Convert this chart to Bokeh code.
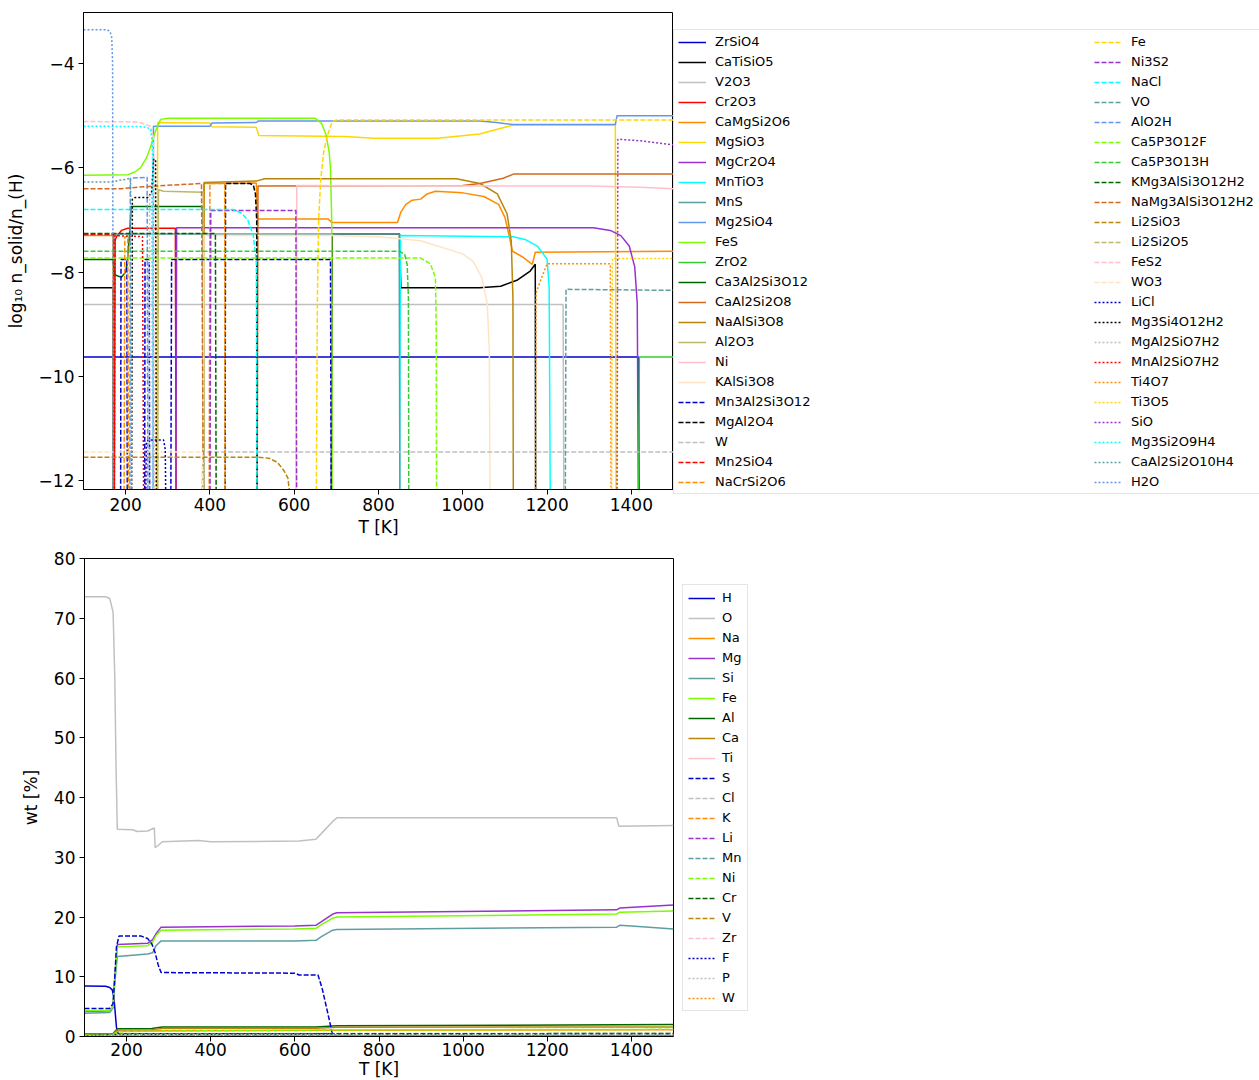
import math
from bokeh.plotting import figure
from bokeh.models import Legend, LegendItem, Range1d, FixedTicker
from bokeh.layouts import column, row
from bokeh.embed import file_html
from bokeh.resources import INLINE

LOW = -13.0   # below the visible axis: species absent
GAP = None    # break in a curve

# ---------------- top panel: log10 n_solid / n_<H>  (T [K], value) ----------------
n_ZrSiO4 = [(100, -9.63), (1417, -9.63), (1419, LOW)]
n_CaTiSiO5 = [(100, -8.3), (170, -8.3), (171, LOW), GAP, (688, LOW), (690, -7.27), (850, -7.27),
              (853, -8.3), (1040, -8.3), (1090, -8.27), (1130, -8.15), (1160, -7.98), (1172, -7.85), (1173, LOW)]
n_V2O3 = [(100, -8.62), (1238, -8.62), (1240, LOW)]
n_Cr2O3 = [(173, LOW), (175, -7.38), (180, -7.3), (190, -7.2), (205, -7.16), (318, -7.16), (320, LOW)]
n_CaMgSi2O6 = [(100, -7.3), (170, -7.3), (171, LOW), GAP, (384, LOW), (386, -6.3), (510, -6.29), (513, -6.98),
               (680, -6.98), (690, -7.05), (845, -7.05), (853, -6.85), (865, -6.7), (880, -6.62), (900, -6.6),
               (915, -6.5), (935, -6.45), (1000, -6.48), (1050, -6.55), (1085, -6.7), (1100, -6.95),
               (1110, -7.3), (1118, -7.6), (1140, -7.7), (1165, -7.85), (1172, -7.62), (1500, -7.6)]
n_MgSiO3 = [(274, LOW), (276, -5.13), (400, -5.14), (404, -5.21), (510, -5.22), (516, -5.38), (720, -5.4),
            (790, -5.43), (940, -5.43), (1040, -5.35), (1100, -5.22), (1120, -5.18), (1362, -5.18), (1364, LOW)]
n_MgCr2O4 = [(319, LOW), (321, -7.15), (1310, -7.15), (1350, -7.2), (1375, -7.3), (1395, -7.5),
             (1408, -7.9), (1414, -8.6), (1417, LOW)]
n_MnTiO3 = [(850, LOW), (852, -7.3), (1120, -7.32), (1150, -7.38), (1177, -7.5), (1200, -7.75),
            (1205, -8.3), (1208, LOW)]
n_MnS = [(170, LOW), (172, -7.27), (849, -7.27), (851, LOW)]
n_Mg2SiO4 = [(265, LOW), (266, -5.2), (400, -5.2), (405, -5.14), (510, -5.13), (515, -5.1), (1040, -5.1),
             (1080, -5.13), (1118, -5.17), (1362, -5.17), (1366, -5.0), (1500, -5.0)]
n_FeS = [(100, -6.14), (205, -6.13), (222, -6.08), (235, -6.0), (250, -5.8), (259, -5.6), (271, -5.29),
         (283, -5.07), (300, -5.05), (650, -5.05), (665, -5.15), (675, -5.35), (683, -5.7), (686, -6.0),
         (689, -7.0), (690, LOW)]
n_ZrO2 = [(1417, LOW), (1419, -9.63), (1500, -9.63)]
n_Ca3Al2Si3O12 = [(100, -7.76), (170, -7.76), (174, -8.05), (190, -8.1), (200, -8.0), (204, -7.8),
                  (210, -7.2), (213, -6.74), (384, -6.74), (386, LOW)]
n_CaAl2Si2O8 = [(512, LOW), (514, -6.35), (1000, -6.34), (1041, -6.3), (1096, -6.2), (1120, -6.12), (1500, -6.12)]
n_NaAlSi3O8 = [(384, LOW), (386, -6.28), (512, -6.25), (530, -6.21), (985, -6.21), (1041, -6.3),
               (1082, -6.5), (1105, -6.88), (1115, -7.4), (1119, -8.5), (1120, LOW)]
n_Al2O3 = [(276, LOW), (278, -6.42), (290, -6.45), (384, -6.47), (386, LOW)]
n_Ni = [(604, LOW), (606, -6.34), (1300, -6.35), (1420, -6.37), (1500, -6.4)]
n_KAlSi3O8 = [(384, LOW), (386, -7.3), (690, -7.3), (800, -7.32), (900, -7.4), (1000, -7.65),
              (1025, -7.8), (1045, -8.1), (1058, -8.6), (1063, -9.5), (1065, LOW)]

n_Mn3Al2Si3O12 = [(188, LOW), (189, -7.76), (203, -7.76), (204, LOW), GAP, (245, LOW), (246, -7.76),
                  (256, -7.76), (257, LOW), GAP, (307, LOW), (309, -7.76), (686, -7.76), (688, LOW)]
n_MgAl2O4 = [(436, LOW), (437, -6.3), (495, -6.3), (503, -6.33), (508, -6.5), (511, -7.0), (512, LOW)]
n_W = [(384, LOW), (386, -11.45), (1500, -11.45)]
n_Mn2SiO4 = [(100, -7.28), (172, -7.28), (173, LOW)]
n_NaCrSi2O6 = [(196, LOW), (198, -7.32), (205, -7.32), (207, LOW), GAP, (398, LOW), (400, -6.3),
               (435, -6.3), (436, LOW)]
n_Fe = [(652, LOW), (655, -8.5), (658, -7.0), (663, -6.2), (670, -5.7), (678, -5.4), (690, -5.12),
        (700, -5.08), (1500, -5.08)]
n_Ni3S2 = [(400, LOW), (402, -6.82), (604, -6.82), (606, LOW)]
n_NaCl = [(100, -6.8), (455, -6.8), (475, -6.87), (490, -7.0), (503, -7.3), (510, -7.8), (512, LOW)]
n_VO = [(1243, LOW), (1245, -8.33), (1500, -8.35)]
n_AlO2H = [(210, LOW), (211, -6.2), (251, -6.18), (253, LOW)]
n_Ca5P3O12F = [(100, -7.73), (900, -7.73), (923, -7.84), (935, -8.1), (937, -9.0), (938, LOW)]
n_Ca5P3O13H = [(100, -7.6), (850, -7.6), (862, -7.66), (868, -7.85), (871, -8.5), (872, LOW)]
n_KMg3AlSi3O12H2 = [(100, -7.26), (413, -7.26), (415, LOW)]
n_NaMg3AlSi3O12H2 = [(100, -6.4), (190, -6.4), (230, -6.37), (290, -6.34), (380, -6.3), (385, LOW)]
n_Li2SiO3 = [(100, -11.55), (515, -11.55), (540, -11.57), (560, -11.65), (575, -11.8), (585, -11.95),
             (590, -12.3), (592, LOW)]
n_Li2Si2O5 = [(380, LOW), (383, -11.6), (388, LOW)]
n_FeS2 = [(100, -5.11), (230, -5.12), (259, -5.2), (266, -5.4), (268, LOW)]
n_WO3 = [(100, -11.45), (382, -11.45), (384, LOW)]

n_LiCl = [(247, LOW), (249, -11.26), (255, -11.22), (290, -11.22), (294, -11.4), (296, LOW)]
n_Mg3Si4O12H2 = [(214, LOW), (216, -6.6), (222, -6.57), (254, -6.57), (262, -6.45), (266, -5.84),
                 (271, -5.84), (273, LOW)]
n_MgAl2SiO7H2 = [(255, LOW), (257, -6.5), (262, -6.5), (264, LOW)]
n_MnAl2SiO7H2 = [(173, LOW), (175, -7.3), (240, -7.32), (243, LOW)]
n_Ti4O7 = [(1172, LOW), (1174, -8.4), (1185, -8.15), (1200, -7.84), (1350, -7.84), (1352, LOW)]
n_Ti3O5 = [(1353, LOW), (1355, -7.74), (1500, -7.74)]
n_SiO = [(1366, LOW), (1368, -5.45), (1420, -5.48), (1500, -5.56)]
n_Mg3Si2O9H4 = [(100, -5.2), (242, -5.21), (259, -5.25), (263, -5.5), (265, -6.5), (266, LOW)]
n_CaAl2Si2O10H4 = [(100, -6.27), (170, -6.27), (185, -6.24), (200, -6.22), (212, -6.2), (214, LOW)]
n_H2O = [(100, -3.35), (155, -3.35), (163, -3.38), (167, -3.5), (169, -4.0), (171, LOW)]

# ---------------- bottom panel: wt [%]  (T [K], value) ----------------
wt_H = [(100, 8.45), (150, 8.4), (160, 8.2), (166, 7.8), (170, 6.5), (173, 4.0), (176, 1.5), (180, 0.5),
        (690, 0.45), (700, 0.05), (1500, 0.03)]
wt_O = [(100, 73.6), (150, 73.6), (160, 73.3), (168, 71.0), (172, 60.0), (175, 45.0), (178, 34.7),
        (215, 34.6), (225, 34.3), (250, 34.4), (266, 34.9), (268, 31.6), (272, 31.8), (285, 32.6),
        (370, 32.8), (400, 32.6), (610, 32.7), (650, 33.0), (670, 34.5), (690, 36.0), (700, 36.6),
        (1365, 36.6), (1370, 35.2), (1500, 35.3)]
wt_Na = [(100, 0.3), (168, 0.32), (178, 0.85), (285, 0.95), (700, 1.05), (1500, 1.15)]
wt_Mg = [(100, 4.2), (160, 4.3), (168, 5.0), (172, 10.0), (178, 15.4), (250, 15.6), (262, 16.2),
         (270, 17.2), (282, 18.3), (600, 18.5), (650, 18.6), (665, 19.3), (690, 20.5), (700, 20.7),
         (1365, 21.2), (1372, 21.5), (1500, 22.0)]
wt_Si = [(100, 3.9), (160, 4.0), (168, 4.8), (172, 9.0), (178, 13.4), (250, 13.8), (262, 14.0),
         (270, 15.2), (282, 16.0), (600, 16.0), (650, 16.1), (665, 16.8), (690, 17.8), (700, 17.9),
         (1365, 18.3), (1372, 18.6), (1400, 18.5), (1500, 18.0)]
wt_Fe = [(100, 4.3), (160, 4.4), (168, 5.0), (172, 10.0), (178, 15.0), (250, 15.2), (262, 15.8),
         (270, 16.9), (282, 17.8), (600, 18.0), (650, 18.1), (665, 18.8), (690, 19.8), (700, 20.0),
         (1365, 20.5), (1372, 20.8), (1500, 21.0)]
wt_Al = [(100, 0.45), (168, 0.5), (178, 1.3), (260, 1.35), (285, 1.6), (650, 1.6), (700, 1.8), (1500, 2.0)]
wt_Ca = [(100, 0.4), (168, 0.45), (178, 1.1), (260, 1.15), (285, 1.35), (650, 1.4), (700, 1.55), (1500, 1.6)]
wt_Ti = [(100, 0.03), (178, 0.08), (1500, 0.09)]
wt_S = [(100, 4.7), (160, 4.7), (168, 5.5), (172, 10.0), (176, 15.0), (182, 16.8), (235, 16.8),
        (250, 16.4), (260, 15.5), (268, 14.0), (275, 12.0), (282, 10.7), (600, 10.6), (610, 10.3),
        (655, 10.3), (665, 8.0), (678, 4.0), (688, 0.8), (692, 0.0), (1500, 0.0)]
wt_Cl = [(100, 0.15), (178, 0.4), (600, 0.45), (690, 0.5), (1500, 0.5)]
wt_K = [(100, 0.04), (178, 0.12), (1500, 0.14)]
wt_Li = [(100, 0.005), (1500, 0.006)]
wt_Mn = [(100, 0.1), (178, 0.3), (1500, 0.35)]
wt_Ni = [(100, 0.28), (168, 0.3), (178, 0.8), (285, 0.9), (700, 1.1), (1500, 1.2)]
wt_Cr = [(100, 0.15), (178, 0.35), (700, 0.45), (1500, 0.5)]
wt_V = [(100, 0.01), (1500, 0.012)]
wt_Zr = [(100, 0.004), (1500, 0.005)]
wt_F = [(100, 0.02), (1500, 0.03)]
wt_P = [(100, 0.1), (178, 0.3), (1500, 0.32)]
wt_W = [(100, 0.002), (1500, 0.002)]

TOP_SERIES = [
    ("ZrSiO4", n_ZrSiO4), ("CaTiSiO5", n_CaTiSiO5), ("V2O3", n_V2O3), ("Cr2O3", n_Cr2O3),
    ("CaMgSi2O6", n_CaMgSi2O6), ("MgSiO3", n_MgSiO3), ("MgCr2O4", n_MgCr2O4), ("MnTiO3", n_MnTiO3),
    ("MnS", n_MnS), ("Mg2SiO4", n_Mg2SiO4), ("FeS", n_FeS), ("ZrO2", n_ZrO2),
    ("Ca3Al2Si3O12", n_Ca3Al2Si3O12), ("CaAl2Si2O8", n_CaAl2Si2O8), ("NaAlSi3O8", n_NaAlSi3O8),
    ("Al2O3", n_Al2O3), ("Ni", n_Ni), ("KAlSi3O8", n_KAlSi3O8),
    ("Mn3Al2Si3O12", n_Mn3Al2Si3O12), ("MgAl2O4", n_MgAl2O4), ("W", n_W), ("Mn2SiO4", n_Mn2SiO4),
    ("NaCrSi2O6", n_NaCrSi2O6), ("Fe", n_Fe), ("Ni3S2", n_Ni3S2), ("NaCl", n_NaCl), ("VO", n_VO),
    ("AlO2H", n_AlO2H), ("Ca5P3O12F", n_Ca5P3O12F), ("Ca5P3O13H", n_Ca5P3O13H),
    ("KMg3AlSi3O12H2", n_KMg3AlSi3O12H2), ("NaMg3AlSi3O12H2", n_NaMg3AlSi3O12H2),
    ("Li2SiO3", n_Li2SiO3), ("Li2Si2O5", n_Li2Si2O5), ("FeS2", n_FeS2), ("WO3", n_WO3),
    ("LiCl", n_LiCl), ("Mg3Si4O12H2", n_Mg3Si4O12H2), ("MgAl2SiO7H2", n_MgAl2SiO7H2),
    ("MnAl2SiO7H2", n_MnAl2SiO7H2), ("Ti4O7", n_Ti4O7), ("Ti3O5", n_Ti3O5), ("SiO", n_SiO),
    ("Mg3Si2O9H4", n_Mg3Si2O9H4), ("CaAl2Si2O10H4", n_CaAl2Si2O10H4), ("H2O", n_H2O),
]
BOT_SERIES = [
    ("H", wt_H), ("O", wt_O), ("Na", wt_Na), ("Mg", wt_Mg), ("Si", wt_Si), ("Fe", wt_Fe), ("Al", wt_Al),
    ("Ca", wt_Ca), ("Ti", wt_Ti), ("S", wt_S), ("Cl", wt_Cl), ("K", wt_K), ("Li", wt_Li), ("Mn", wt_Mn),
    ("Ni", wt_Ni), ("Cr", wt_Cr), ("V", wt_V), ("Zr", wt_Zr), ("F", wt_F), ("P", wt_P), ("W", wt_W),
]

TOP_COLORS = ["mediumblue", "black", "silver", "red", "darkorange", "gold", "darkorchid", "cyan",
              "cadetblue", "cornflowerblue", "lawngreen", "limegreen", "darkgreen", "chocolate",
              "darkgoldenrod", "darkkhaki", "pink", "bisque"]
BOT_COLORS = ["mediumblue", "silver", "darkorange", "darkorchid", "cadetblue", "lawngreen",
              "darkgreen", "darkgoldenrod", "pink"]
DASHES = ["solid", "5 2", "2 2"]

X_TICKS = [200, 400, 600, 800, 1000, 1200, 1400]
TOP_Y_TICKS = [-12, -10, -8, -6, -4]
BOT_Y_TICKS = [0, 10, 20, 30, 40, 50, 60, 70, 80]
FONT = "DejaVu Sans"


def split_xy(pts):
    xs, ys = [], []
    for pt in pts:
        if pt is None:
            xs.append(float("nan"))
            ys.append(float("nan"))
        else:
            xs.append(pt[0])
            ys.append(pt[1])
    return xs, ys


def style(p, yticks, label_standoff, title_standoff):
    p.xgrid.visible = False
    p.ygrid.visible = False
    p.outline_line_color = "black"
    p.outline_line_width = 1
    p.background_fill_color = "white"
    p.border_fill_color = "white"
    p.xaxis.ticker = FixedTicker(ticks=X_TICKS)
    p.yaxis.ticker = FixedTicker(ticks=yticks)
    p.yaxis.major_label_overrides = {v: str(v).replace("-", "\u2212") for v in yticks}
    for ax in (p.xaxis[0], p.yaxis[0]):
        ax.major_label_text_font = FONT
        ax.major_label_text_font_size = "17px"
        ax.major_label_text_color = "black"
        ax.axis_label_text_font = FONT
        ax.axis_label_text_font_size = "17px"
        ax.axis_label_text_font_style = "normal"
        ax.axis_label_text_color = "black"
        ax.major_tick_in = 0
        ax.major_tick_out = 5
        ax.major_tick_line_color = "black"
        ax.minor_tick_line_color = None
        ax.axis_line_color = "black"
    p.xaxis.major_label_standoff = label_standoff
    p.xaxis.axis_label_standoff = title_standoff
    p.yaxis.major_label_standoff = 4
    p.yaxis.axis_label_standoff = 10


# ---------------- top figure ----------------
p1 = figure(frame_width=590, frame_height=477, output_backend="svg", toolbar_location=None,
            x_range=Range1d(100, 1500), y_range=Range1d(-12.17, -3.02),
            min_border_left=83, min_border_right=0, min_border_top=12, min_border_bottom=51,
            x_axis_label="T [K]", y_axis_label="log\u2081\u2080 n_solid/n_(H)")
style(p1, TOP_Y_TICKS, 3, 3)

for i, (name, pts) in enumerate(TOP_SERIES):
    xs, ys = split_xy(pts)
    p1.line(xs, ys, line_color=TOP_COLORS[i % 18], line_dash=DASHES[i // 18], line_width=1.5)

# legend canvas for the top panel (two columns, to the right of the axes);
# proxy lines sit outside this canvas' ranges, only their legend glyphs show
pL = figure(frame_width=586, frame_height=482, output_backend="svg", toolbar_location=None,
            x_range=Range1d(0, 1), y_range=Range1d(0, 1),
            min_border_left=0, min_border_right=0, min_border_top=12, min_border_bottom=46)
pL.axis.visible = False
pL.grid.visible = False
pL.outline_line_color = None
pL.background_fill_color = "white"
pL.border_fill_color = "white"

top_items = []
for i, (name, pts) in enumerate(TOP_SERIES):
    proxy = pL.line([5, 6], [5, 6], line_color=TOP_COLORS[i % 18], line_dash=DASHES[i // 18], line_width=1.5)
    top_items.append(LegendItem(label=name, renderers=[proxy]))

leg_kw = dict(label_text_font=FONT, label_text_font_size="13px", label_text_color="black",
              glyph_width=28, glyph_height=14, label_height=14, spacing=5, padding=4,
              label_standoff=9, margin=0)
legA = Legend(items=top_items[:23], location=(0, 0), label_width=560,
              border_line_color="#cccccc", border_line_width=1,
              background_fill_color="white", background_fill_alpha=1.0, **leg_kw)
legB = Legend(items=top_items[23:], location=(421, 5), label_width=20,
              border_line_color=None, background_fill_alpha=0.0, **leg_kw)
pL.add_layout(legA, "center")
pL.add_layout(legB, "center")

# ---------------- bottom figure ----------------
p2 = figure(frame_width=589, frame_height=478, output_backend="svg", toolbar_location=None,
            x_range=Range1d(100, 1500), y_range=Range1d(0, 80),
            min_border_left=84, min_border_right=0, min_border_top=18, min_border_bottom=42,
            x_axis_label="T [K]", y_axis_label="wt [%]")
style(p2, BOT_Y_TICKS, 1, 0)

bot_items = []
for i, (name, pts) in enumerate(BOT_SERIES):
    xs, ys = split_xy(pts)
    r = p2.line(xs, ys, line_color=BOT_COLORS[i % 9], line_dash=DASHES[i // 9], line_width=1.5)
    bot_items.append(LegendItem(label=name, renderers=[r]))

legC = Legend(items=bot_items, location=(9, 25), label_text_font=FONT, label_text_font_size="13px",
              label_text_color="black", glyph_width=27, glyph_height=14, label_height=14, spacing=5,
              padding=5, label_standoff=7, margin=0, border_line_color="#cccccc", border_line_width=1,
              background_fill_color="white", background_fill_alpha=1.0)
p2.add_layout(legC, "right")

layout = column(row(p1, pL), p2)
open("out.html", "w").write(file_html(layout, INLINE))
